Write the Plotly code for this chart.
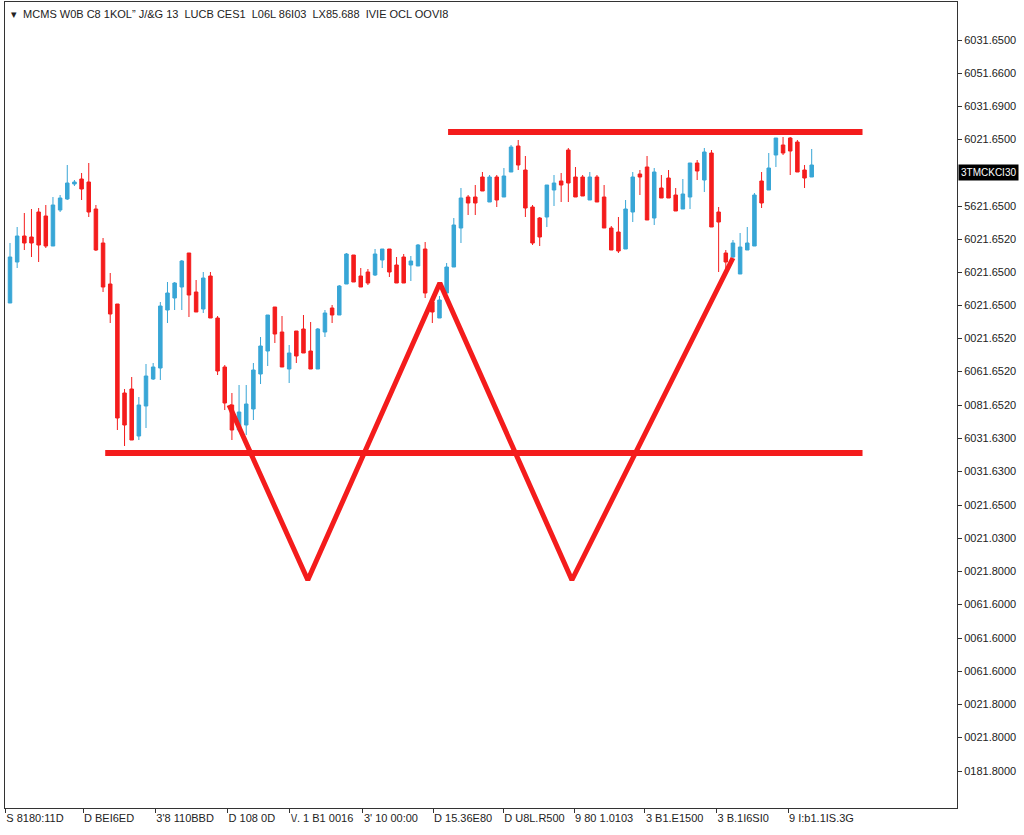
import plotly.graph_objects as go

# ---------------- data ----------------
opens = [505,546,572,571,596,592,562,598,609,624,629,626,599,565,524,504,415,419,372,402,
         429,440,498,510,521,555,516,499,532,490,441,403,378,383,399,434,457,501,476,439,
         477,479,457,439,476,500,493,524,553,532,536,533,548,559,543,551,543,542,559,506,
         490,515,541,580,611,611,631,606,631,611,636,662,638,601,590,591,618,627,658,631,
         631,608,631,611,580,576,559,596,634,641,590,620,630,613,599,611,645,628,655,596,
         555,551,534,558,562,627,618,653,663,670,666,638,631]
closes = [551,572,565,565,563,562,603,610,625,626,619,596,558,521,494,390,383,368,403,432,
          441,502,515,525,547,513,496,530,490,437,405,378,396,404,438,462,493,474,441,455,
          452,455,439,479,495,493,522,554,526,521,525,554,559,536,525,525,547,563,515,496,
          508,541,583,610,605,605,617,631,608,632,661,643,600,565,571,623,625,623,625,611,
          612,631,606,580,558,557,599,631,631,588,636,610,610,597,614,645,637,656,581,586,
          546,565,561,565,613,605,640,670,655,657,636,630,643]
highs = [565,581,595,599,600,603,611,613,643,628,635,645,603,570,535,504,419,431,411,444,
         445,506,526,526,548,555,528,536,536,492,443,415,423,423,445,471,493,501,492,463,
         477,493,486,480,498,503,523,555,553,540,539,559,559,559,551,554,552,564,566,512,
         512,545,590,620,613,623,636,633,633,640,663,668,652,603,591,623,633,635,660,641,
         633,636,633,623,582,591,608,636,638,652,640,633,638,620,629,645,648,660,658,601,
         558,568,575,581,615,636,655,670,671,671,668,643,659]
lows = [505,540,558,551,546,560,562,596,608,622,608,591,557,516,485,378,362,368,368,380,
        428,428,485,498,498,491,496,495,490,433,398,368,376,373,388,424,442,465,441,425,
        445,455,439,439,471,485,493,524,526,521,523,532,540,531,525,525,527,542,510,485,
        490,515,541,565,593,593,617,606,601,611,636,638,591,563,562,581,602,606,606,611,
        612,608,606,580,558,555,559,586,613,588,583,610,610,597,599,599,628,616,581,536,
        535,550,534,558,562,600,618,641,653,633,636,620,631]
session = list(range(len(opens)))

# pattern drawn on the chart (session index, price)
pattern_x = [30.6, 41.6, 60.05, 78.5, 101.0]
pattern_y = [403, 228, 525, 228, 550]
resistance_x = [61.2, 119.1]
resistance_y = [676, 676]
support_x = [13.3, 119.1]
support_y = [355, 355]

# axis ticks and labels
x_tickvals = [-0.65, 10.2, 20.3, 30.4, 39.1, 49.3, 59.1, 68.9, 78.8, 88.7, 98.7, 108.7]
x_ticktext = ["S 8180:11D", "D BEI6ED", "3'8 110BBD", "D 108 0D", "\\/. 1 B1 0016",
              "3' 10 00:00", "D 15.36E80", "D U8L.R500", "9 80 1.0103", "3 B1.E1500",
              "3 B.1I6SI0", "9 I:b1.1IS.3G"]
y_tickvals = [768, 735, 702, 669, 602, 569, 536, 503, 470, 437, 403, 370, 337, 303,
              270, 237, 204, 170, 137, 104, 71, 37]
y_ticktext = ["6031.6500", "6051.6600", "6031.6900", "6021.6500", "5621.6500",
              "6021.6520", "6021.6500", "6021.6500", "0021.6520", "6061.6520",
              "0081.6520", "6031.6300", "0031.6300", "0021.6500", "0021.0300",
              "0021.8000", "0061.6000", "0061.6000", "0061.6000", "0021.8000",
              "0021.8000", "0181.8000"]
last_price = 636
last_label = "3TMCKCI30"
title_text = "\u25be  MCMS W0B C8 1KOL\u201d J/&G 13  LUCB CES1  L06L 86I03  LX85.688  IVIE OCL OOVI8"

RED = "#f41c1c"
BLUE = "#38a6d6"
FONT = "Liberation Sans, Arial, sans-serif"

fig = go.Figure()
fig.add_trace(go.Candlestick(
    x=session, open=opens, high=highs, low=lows, close=closes,
    increasing=dict(line=dict(color=BLUE, width=1), fillcolor=BLUE),
    decreasing=dict(line=dict(color=RED, width=1), fillcolor=RED),
    whiskerwidth=0, showlegend=False, hoverinfo="skip"))

fig.add_trace(go.Scatter(x=support_x, y=support_y, mode="lines",
                         line=dict(color=RED, width=6), showlegend=False, hoverinfo="skip"))
fig.add_trace(go.Scatter(x=resistance_x, y=resistance_y, mode="lines",
                         line=dict(color=RED, width=6), showlegend=False, hoverinfo="skip"))
fig.add_trace(go.Scatter(x=pattern_x, y=pattern_y, mode="lines",
                         line=dict(color=RED, width=5), showlegend=False, hoverinfo="skip"))

fig.add_annotation(x=1.0, xref="paper", xanchor="left", xshift=1, y=last_price, yref="y",
                   text=last_label, showarrow=False, bgcolor="#000000",
                   font=dict(color="#ffffff", size=10, family=FONT), borderpad=2)
fig.add_annotation(x=0, xref="paper", xanchor="left", xshift=4, y=1, yref="paper",
                   yanchor="top", yshift=-4, text=title_text, showarrow=False,
                   font=dict(color="#222222", size=11, family=FONT))

fig.update_layout(
    width=1024, height=835,
    margin=dict(l=5, r=67, t=2, b=27, autoexpand=False),
    paper_bgcolor="#ffffff", plot_bgcolor="#ffffff",
    font=dict(family=FONT, size=11, color="#222222"),
    xaxis=dict(range=[-0.7, 132.3], rangeslider=dict(visible=False), showgrid=False,
               zeroline=False, showline=True, linecolor="#333333", linewidth=1, mirror=True,
               ticks="outside", ticklen=4, tickcolor="#333333", tickangle=0,
               automargin=False,
               tickvals=x_tickvals, ticktext=x_ticktext, ticklabelposition="outside right",
               tickfont=dict(size=11)),
    yaxis=dict(range=[0, 806], side="right", showgrid=False, zeroline=False,
               showline=True, linecolor="#333333", linewidth=1, mirror=True,
               ticks="outside", ticklen=4, tickcolor="#333333", automargin=False,
               tickvals=y_tickvals, ticktext=y_ticktext, tickfont=dict(size=11)),
)

fig.write_html("out.html", config={"displayModeBar": False},
               post_script="document.body.style.margin='0';")
